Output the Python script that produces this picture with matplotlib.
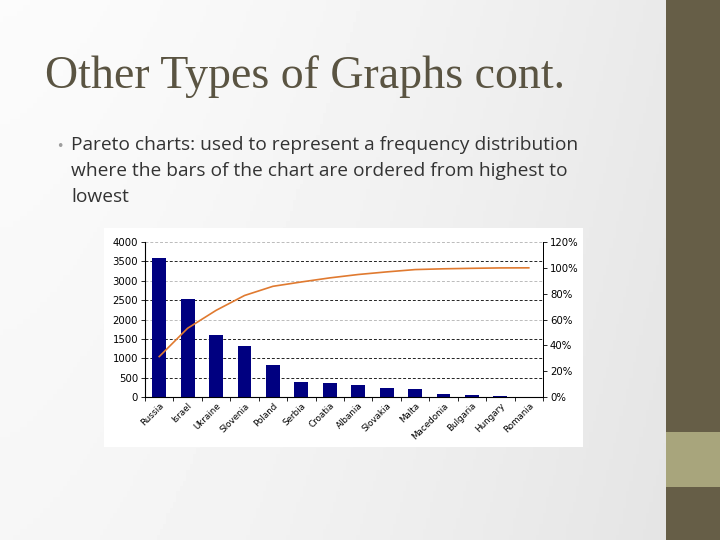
import numpy as np
import matplotlib
matplotlib.use("Agg")
import matplotlib.pyplot as plt
from matplotlib.patches import Rectangle

countries = ["Russia", "Israel", "Ukraine", "Slovenia", "Poland", "Serbia", "Croatia",
             "Albania", "Slovakia", "Malta", "Macedonia", "Bulgaria", "Hungary", "Romania"]
counts = [3590, 2520, 1590, 1320, 817, 387, 361, 301, 232, 206, 69, 43, 35, 8]
left_ticks = [0, 500, 1000, 1500, 2000, 2500, 3000, 3500, 4000]
right_ticks = [0, 20, 40, 60, 80, 100, 120]

title = "Other Types of Graphs cont."
bullet_lines = ["Pareto charts: used to represent a frequency distribution",
                "where the bars of the chart are ordered from highest to",
                "lowest"]

W, H = 720, 540
fig = plt.figure(figsize=(7.2, 5.4), dpi=100)

# slide background: soft gradient, olive side bar
bg = fig.add_axes([0, 0, 1, 1])
bg.set_xlim(0, W)
bg.set_ylim(H, 0)
bg.axis("off")
gx = np.linspace(0, 1, 200)
gy = np.linspace(0, 1, 100)
grad = 0.985 - 0.07 * gx[None, :] ** 1.5 - 0.02 * gy[:, None]
bg.imshow(grad, cmap="gray", vmin=0, vmax=1, extent=[0, 666, H, 0], aspect="auto")
bg.add_patch(Rectangle((666, 0), 54, H, color="#665E47", lw=0))
bg.add_patch(Rectangle((666, 432), 54, 55, color="#A8A57C", lw=0))
bg.add_patch(Rectangle((104, 228), 479, 219, color="white", lw=0))

bg.text(45, 88, title, family="Liberation Serif", fontsize=33, color="#5A5442",
        va="baseline", ha="left")
bg.text(56, 150, "\u2022", family="DejaVu Sans", fontsize=9, color="#9E9E9E",
        va="baseline", ha="left")
for i, line in enumerate(bullet_lines):
    bg.text(71, 150 + 26 * i, line, family="Open Sans", fontsize=13.8, color="#333333",
            va="baseline", ha="left")

# pareto chart
ax = fig.add_axes([145 / W, 1 - 397 / H, (543 - 145) / W, (397 - 242) / H])
x = np.arange(len(countries))
ax.bar(x, counts, width=0.49, color="#000080", zorder=3)
ax.set_xlim(-0.5, len(countries) - 0.5)
ax.set_ylim(0, 4000)
for v in left_ticks[1:]:
    c = "#222222" if v in (500, 1000, 1500, 2500, 3500) else "#BBBBBB"
    ax.axhline(v, color=c, lw=0.7, ls=(0, (3, 2)), zorder=1)
ax.set_yticks(left_ticks)
ax.tick_params(axis="y", labelsize=7.3, length=3, width=0.6, pad=2)
ax.set_xticks(x)
ax.set_xticklabels(countries, rotation=45, ha="right", rotation_mode="anchor",
                   fontsize=6.3)
ax.set_xticks(np.arange(len(countries) + 1) - 0.5, minor=True)
ax.tick_params(axis="x", which="major", length=0, pad=3)
ax.tick_params(axis="x", which="minor", length=3, width=0.6)
ax.spines["top"].set_visible(False)
for s in ["left", "bottom", "right"]:
    ax.spines[s].set_linewidth(0.7)

cum = np.cumsum(counts) / np.sum(counts) * 100
ax2 = ax.twinx()
ax2.plot(x, cum, color="#E07A30", lw=1.2, zorder=4)
ax2.set_ylim(0, 120)
ax2.set_yticks(right_ticks)
ax2.set_yticklabels([f"{v}%" for v in right_ticks])
ax2.tick_params(axis="y", labelsize=7.3, length=3, width=0.6, pad=2)
ax2.spines["top"].set_visible(False)
ax2.spines["right"].set_linewidth(0.7)

fig.savefig("out.png", dpi=100)
